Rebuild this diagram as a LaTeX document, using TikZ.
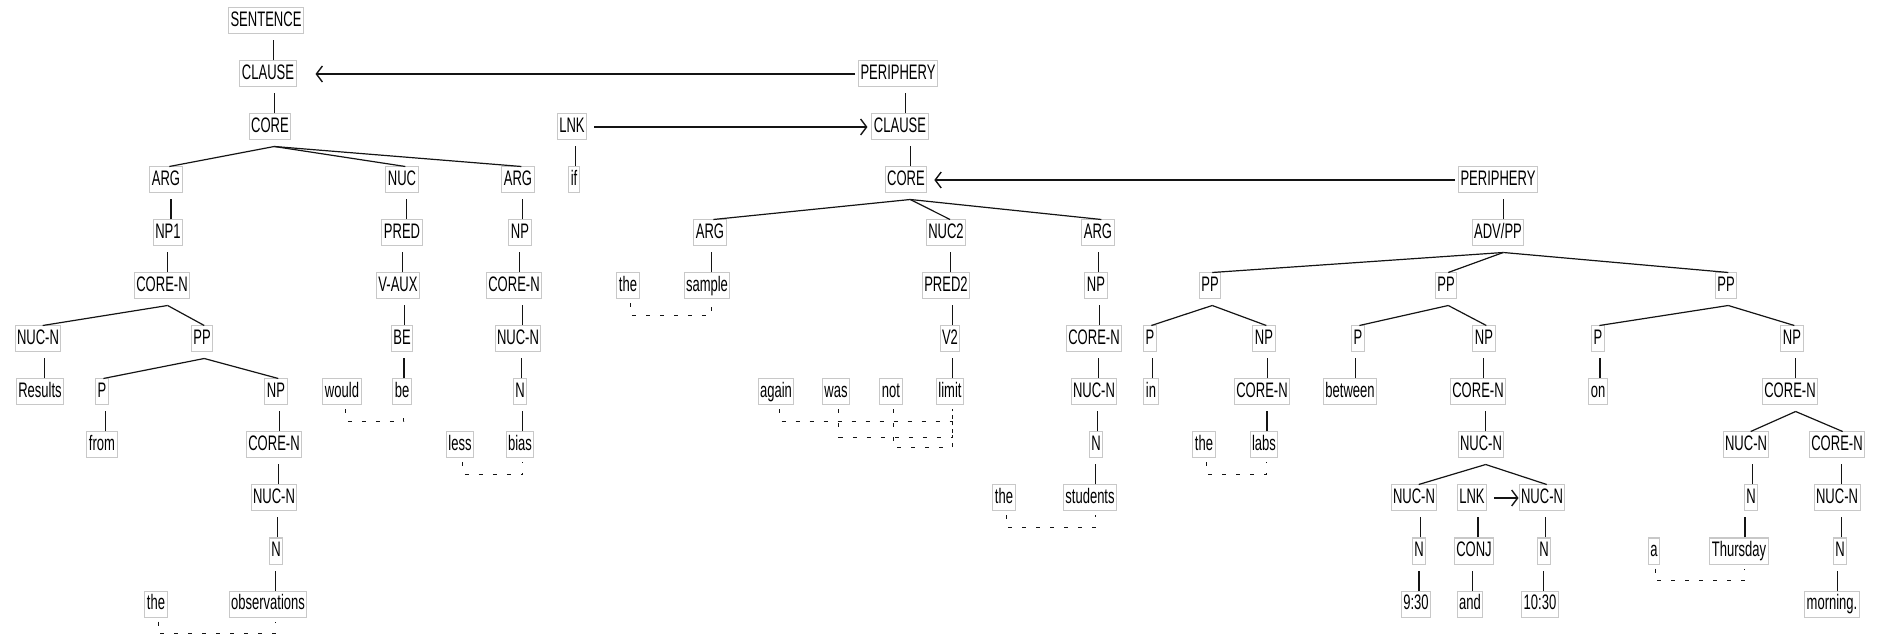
\documentclass[tikz,border=0pt]{standalone}
\usepackage{fontspec}
\setmainfont{Liberation Sans}[FakeStretch=0.62]
\usepackage{tikz}
\usetikzlibrary{
  arrows.meta,
  calc
}
\definecolor{boxcolor}{RGB}{200, 200, 200}
\definecolor{linecolor}{RGB}{20, 20, 20}
\tikzset{
rrgbox/.style={
  draw=boxcolor,
  line width=0.5pt,
  inner xsep=1pt,
  inner ysep=0pt,
  text height=7.8pt,
  text depth=2.2pt,
  minimum height=13pt,
  font=\fontsize{10.5pt}{12pt}\selectfont
},
treeline/.style={
  draw=linecolor,
  line width=0.6pt
},
linkarrow/.style={
  -{Straight Barb[length=3pt,width=8pt]},
  line width=0.7pt,
  draw=linecolor
},
oplink/.style={
  draw=linecolor,
  line width=0.5pt,
  dash pattern=on 2pt off 5pt
}
}

\begin{document}
\begin{tikzpicture}[x=0.5pt, y=-0.5pt]
  \useasboundingbox (0,0) rectangle (1878,640);

  % main clause
  \node[rrgbox] (lsent) at (266,21) {SENTENCE};
  \node[rrgbox] (lclause) at (268,74) {CLAUSE};
  \node[rrgbox] (lcore) at (270,127) {CORE};
  \node[rrgbox] (larg1) at (166,180) {ARG};
  \node[rrgbox] (lnuc) at (402,180) {NUC};
  \node[rrgbox] (larg2) at (518,180) {ARG};
  \node[rrgbox] (lnp1) at (168,233) {NP1};
  \node[rrgbox] (lpred) at (402,233) {PRED};
  \node[rrgbox] (lnp2) at (520,233) {NP};
  \node[rrgbox] (lcoren1) at (162,286) {CORE-N};
  \node[rrgbox] (lvaux) at (398,286) {V-AUX};
  \node[rrgbox] (lcoren2) at (514,286) {CORE-N};
  \node[rrgbox] (lnucn1) at (38,339) {NUC-N};
  \node[rrgbox] (lpp) at (202,339) {PP};
  \node[rrgbox] (lbe) at (402,339) {BE};
  \node[rrgbox] (lnucn2) at (518,339) {NUC-N};
  \node[rrgbox] (wresults) at (40,392) {Results};
  \node[rrgbox] (lp) at (102,392) {P};
  \node[rrgbox] (lnp3) at (276,392) {NP};
  \node[rrgbox] (wwould) at (342,392) {would};
  \node[rrgbox] (wbe) at (402,392) {be};
  \node[rrgbox] (ln2) at (520,392) {N};
  \node[rrgbox] (wfrom) at (102,445) {from};
  \node[rrgbox] (lcoren3) at (274,445) {CORE-N};
  \node[rrgbox] (wless) at (460,445) {less};
  \node[rrgbox] (wbias) at (520,445) {bias};
  \node[rrgbox] (lnucn3) at (274,498) {NUC-N};
  \node[rrgbox] (ln3) at (276,551) {N};
  \node[rrgbox] (wthe1) at (156,604) {the};
  \node[rrgbox] (wobs) at (268,604) {observations};

  % linker
  \node[rrgbox] (llnk) at (572,127) {LNK};
  \node[rrgbox] (wif) at (574,180) {if};

  % if-clause
  \node[rrgbox] (mperi) at (898,74) {PERIPHERY};
  \node[rrgbox] (mclause) at (900,127) {CLAUSE};
  \node[rrgbox] (mcore) at (906,180) {CORE};
  \node[rrgbox] (marg1) at (710,233) {ARG};
  \node[rrgbox] (mnuc) at (946,233) {NUC2};
  \node[rrgbox] (marg2) at (1098,233) {ARG};
  \node[rrgbox] (wthe2) at (628,286) {the};
  \node[rrgbox] (wsample) at (707,286) {sample};
  \node[rrgbox] (mpred) at (946,286) {PRED2};
  \node[rrgbox] (mnp) at (1096,286) {NP};
  \node[rrgbox] (mv) at (950,339) {V2};
  \node[rrgbox] (mcoren) at (1094,339) {CORE-N};
  \node[rrgbox] (wagain) at (776,392) {again};
  \node[rrgbox] (wwas) at (836,392) {was};
  \node[rrgbox] (wnot) at (891,392) {not};
  \node[rrgbox] (wlimit) at (950,392) {limit};
  \node[rrgbox] (mnucn) at (1094,392) {NUC-N};
  \node[rrgbox] (mn) at (1096,445) {N};
  \node[rrgbox] (wthe3) at (1004,498) {the};
  \node[rrgbox] (wstudents) at (1090,498) {students};

  % periphery of the if-clause
  \node[rrgbox] (rperi) at (1498,180) {PERIPHERY};
  \node[rrgbox] (radvpp) at (1498,233) {ADV/PP};
  \node[rrgbox] (rpp1) at (1210,286) {PP};
  \node[rrgbox] (rpp2) at (1446,286) {PP};
  \node[rrgbox] (rpp3) at (1726,286) {PP};
  \node[rrgbox] (rp1) at (1150,339) {P};
  \node[rrgbox] (rnp1) at (1264,339) {NP};
  \node[rrgbox] (rp2) at (1358,339) {P};
  \node[rrgbox] (rnp2) at (1484,339) {NP};
  \node[rrgbox] (rp3) at (1598,339) {P};
  \node[rrgbox] (rnp3) at (1792,339) {NP};
  \node[rrgbox] (win) at (1151,392) {in};
  \node[rrgbox] (rcoren1) at (1262,392) {CORE-N};
  \node[rrgbox] (wbetween) at (1350,392) {between};
  \node[rrgbox] (rcoren2) at (1478,392) {CORE-N};
  \node[rrgbox] (won) at (1598,392) {on};
  \node[rrgbox] (rcoren3) at (1790,392) {CORE-N};
  \node[rrgbox] (wthe4) at (1204,445) {the};
  \node[rrgbox] (wlabs) at (1264,445) {labs};
  \node[rrgbox] (rnucn1) at (1481,445) {NUC-N};
  \node[rrgbox] (rnucn2) at (1746,445) {NUC-N};
  \node[rrgbox] (rcoren4) at (1837,445) {CORE-N};
  \node[rrgbox] (rnucn3) at (1414,498) {NUC-N};
  \node[rrgbox] (rlnk) at (1472,498) {LNK};
  \node[rrgbox] (rnucn4) at (1542,498) {NUC-N};
  \node[rrgbox] (rn1) at (1751,498) {N};
  \node[rrgbox] (rnucn5) at (1837,498) {NUC-N};
  \node[rrgbox] (rn2) at (1419,551) {N};
  \node[rrgbox] (rconj) at (1474,551) {CONJ};
  \node[rrgbox] (rn3) at (1544,551) {N};
  \node[rrgbox] (wa) at (1654,551) {a};
  \node[rrgbox] (wthursday) at (1739,551) {Thursday};
  \node[rrgbox] (rn4) at (1840,551) {N};
  \node[rrgbox] (w930) at (1416,604) {9:30};
  \node[rrgbox] (wand) at (1470,604) {and};
  \node[rrgbox] (w1030) at (1540,604) {10:30};
  \node[rrgbox] (wmorning) at (1832,604) {morning.};

  % branching tree lines
  \foreach \p/\c in {lcore/larg1, lcore/lnuc, lcore/larg2, lcoren1/lnucn1, lcoren1/lpp,
      lpp/lp, lpp/lnp3, mcore/marg1, mcore/mnuc, mcore/marg2,
      radvpp/rpp1, radvpp/rpp2, radvpp/rpp3, rpp1/rp1, rpp1/rnp1, rpp2/rp2, rpp2/rnp2,
      rnucn1/rnucn3, rnucn1/rnucn4, rpp3/rp3, rpp3/rnp3, rcoren3/rnucn2, rcoren3/rcoren4}
    \draw[treeline] ($(\p.south west)!0.6!(\p.south east)+(0,6)$)
      -- ($(\c.north west)!0.6!(\c.north east)$);

  % single tree lines
  \foreach \p/\c in {lsent/lclause, lclause/lcore, larg1/lnp1, lnp1/lcoren1,
      lnucn1/wresults, lp/wfrom, lnp3/lcoren3, lcoren3/lnucn3, lnucn3/ln3, ln3/wobs,
      lnuc/lpred, lpred/lvaux, lvaux/lbe, lbe/wbe,
      larg2/lnp2, lnp2/lcoren2, lcoren2/lnucn2, lnucn2/ln2, ln2/wbias, llnk/wif,
      mperi/mclause, mclause/mcore, marg1/wsample, mnuc/mpred, mpred/mv, mv/wlimit,
      marg2/mnp, mnp/mcoren, mcoren/mnucn, mnucn/mn, mn/wstudents,
      rperi/radvpp, rp1/win, rnp1/rcoren1, rcoren1/wlabs, rp2/wbetween,
      rnp2/rcoren2, rcoren2/rnucn1, rnucn3/rn2, rn2/w930, rlnk/rconj, rconj/wand,
      rnucn4/rn3, rn3/w1030, rp3/won, rnp3/rcoren3,
      rnucn2/rn1, rn1/wthursday, rcoren4/rnucn5, rnucn5/rn4, rn4/wmorning}
  {
    \coordinate (top) at ($(\c.north west)!0.6!(\c.north east)$);
    \draw[treeline] (top) -- ([yshift=-3pt]top |- \p.south);
  }

  % operator links
  \foreach \w/\h/\d in {wwould/wbe/12, wless/wbias/12, wthe1/wobs/12, wthe2/wsample/12,
      wagain/wlimit/12, wwas/wlimit/28, wnot/wlimit/38, wthe3/wstudents/12,
      wthe4/wlabs/12, wa/wthursday/12}
    \draw[oplink] ($(\w.south west)!0.6!(\w.south east)+(0,4)$) -- ++(0,\d)
      -| ($(\h.south west)!0.6!(\h.south east)+(0,4)$);

  % linkage arrows
  \draw[linkarrow] ([xshift=-1.5pt]mperi.west) -- ([xshift=9.5pt]lclause.east);
  \draw[linkarrow] ([xshift=3.5pt]llnk.east) -- ([xshift=-2pt]mclause.west);
  \draw[linkarrow] ([xshift=-1.5pt]rperi.west) -- ([xshift=3.5pt]mcore.east);
  \draw[linkarrow] ([xshift=3.5pt]rlnk.east) -- (rnucn4.west);
\end{tikzpicture}
\end{document}
